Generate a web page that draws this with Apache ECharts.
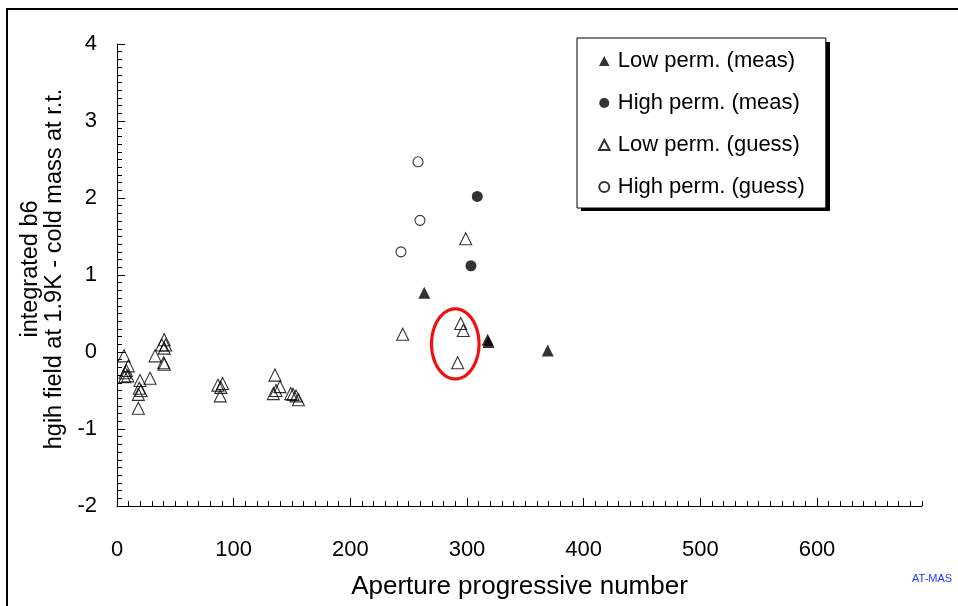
<!DOCTYPE html>
<html><head><meta charset="utf-8">
<script src="https://cdn.jsdelivr.net/npm/echarts@6/dist/echarts.min.js"></script>
<style>html,body{margin:0;padding:0;background:#fff}#c{width:958px;height:606px}</style>
</head><body><div id="c"></div>
<script>
// ---- data ----
const lowMeasX = [263.4, 317.7, 318.5, 369.2];
const lowMeasY = [0.77, 0.16, 0.13, 0.02];
const highMeasX = [308.8, 303.4];
const highMeasY = [2.02, 1.12];
const lowGuessX = [6, 9.7, 8, 6.9, 9.2, 6.6, 19.7, 28.3, 19.1, 20.6, 18.3, 18.3, 32.6, 40.5, 38.3, 41.7, 40.5, 40, 40.5,
  86.5, 90.5, 88.5, 89,
  135.4, 134, 136.3, 139.7, 148.9, 150.9, 153.5, 155.5,
  298.9, 244.9, 294.6, 296.8, 292];
const lowGuessY = [-0.05, -0.18, -0.24, -0.27, -0.31, -0.32, -0.37, -0.34, -0.47, -0.50, -0.55, -0.73, -0.05, 0.16, 0.09, 0.09, 0.05, -0.14, -0.16,
  -0.43, -0.41, -0.57, -0.46,
  -0.30, -0.54, -0.50, -0.45, -0.54, -0.55, -0.57, -0.62,
  1.47, 0.23, 0.37, 0.28, -0.14];
const highGuessX = [258, 259.7, 243.4];
const highGuessY = [2.47, 1.71, 1.30];
// highlighted region (red ellipse): x range and y range
const ellipseBox = [269.6, 310.3, -0.35, 0.56];
const seriesNames = ['Low perm. (meas)', 'High perm. (meas)', 'Low perm. (guess)', 'High perm. (guess)'];
const xTitle = 'Aperture progressive number';
const yTitle = 'integrated b6\nhgih field at 1.9K - cold mass at r.t.';

const zip = (a, b) => a.map((v, i) => [v, b[i]]);
const FONT = 'Liberation Sans, Arial, sans-serif';
const TRI = 'path://M5,0L10,9.5L0,9.5Z';

const chart = echarts.init(document.getElementById('c'), null, {renderer: 'canvas'});
const option = {
  animation: false,
  backgroundColor: '#fff',
  grid: {left: 117, top: 44, right: 36, bottom: 100, containLabel: false, outerBoundsMode: 'none'},
  xAxis: [{
    type: 'value', min: 0, max: 690, interval: 100,
    axisLine: {show: true, onZero: false, lineStyle: {color: '#000', width: 1}},
    axisTick: {show: true, inside: true, length: 8, lineStyle: {color: '#000'}},
    axisLabel: {show: true, color: '#000', fontSize: 22, fontFamily: FONT, margin: 33, showMaxLabel: false},
    splitLine: {show: false},
    name: xTitle, nameLocation: 'middle', nameGap: 68,
    nameTextStyle: {color: '#000', fontSize: 26, fontFamily: FONT}
  }, {
    type: 'value', min: 0, max: 690, interval: 10, position: 'bottom',
    axisLine: {show: false, onZero: false},
    axisTick: {show: true, inside: true, length: 5, lineStyle: {color: '#000'}},
    axisLabel: {show: false}, splitLine: {show: false}
  }],
  yAxis: {
    type: 'value', min: -2, max: 4, interval: 1,
    axisLine: {show: true, onZero: false, lineStyle: {color: '#000', width: 1}},
    axisTick: {show: true, inside: true, length: 8, lineStyle: {color: '#000'}},
    minorTick: {show: true, splitNumber: 10, length: 5, lineStyle: {color: '#000'}},
    axisLabel: {color: '#000', fontSize: 22, fontFamily: FONT, margin: 20},
    splitLine: {show: false}, minorSplitLine: {show: false},
    name: yTitle, nameLocation: 'middle', nameRotate: 90, nameGap: 45,
    nameTextStyle: {color: '#000', fontSize: 23.5, lineHeight: 24, fontFamily: FONT, align: 'center', padding: [0, 0, 0, 12]}
  },
  legend: {
    data: [
      {name: seriesNames[0], icon: TRI},
      {name: seriesNames[1]},
      {name: seriesNames[2], icon: TRI},
      {name: seriesNames[3]}
    ],
    orient: 'vertical', left: 577, top: 38,
    padding: [12, 21, 10, 21],
    itemWidth: 17, itemHeight: 10, itemGap: 20,
    symbolKeepAspect: true,
    backgroundColor: '#fff', borderColor: '#000', borderWidth: 1,
    textStyle: {color: '#000', fontSize: 22, fontFamily: FONT},
    selectedMode: false, z: 5
  },
  series: [
    {name: seriesNames[0], type: 'scatter', symbol: 'triangle', symbolSize: 12,
     itemStyle: {color: '#000'}, data: zip(lowMeasX, lowMeasY), z: 3},
    {name: seriesNames[1], type: 'scatter', symbol: 'circle', symbolSize: 11,
     itemStyle: {color: '#000'}, data: zip(highMeasX, highMeasY), z: 3},
    {name: seriesNames[2], type: 'scatter', symbol: 'triangle', symbolSize: 12,
     itemStyle: {color: 'rgba(255,255,255,0)', borderColor: '#000', borderWidth: 1.1}, data: zip(lowGuessX, lowGuessY), z: 3},
    {name: seriesNames[3], type: 'scatter', symbol: 'circle', symbolSize: 10,
     itemStyle: {color: 'rgba(255,255,255,0)', borderColor: '#000', borderWidth: 1.1}, data: zip(highGuessX, highGuessY), z: 3},
    {type: 'custom', silent: true, z: 4,
     data: [ellipseBox],
     renderItem: function (params, api) {
       const p1 = api.coord([api.value(0), api.value(3)]);
       const p2 = api.coord([api.value(1), api.value(2)]);
       const cx = (p1[0] + p2[0]) / 2, cy = (p1[1] + p2[1]) / 2;
       const rx = Math.abs(p2[0] - p1[0]) / 2, ry = Math.abs(p2[1] - p1[1]) / 2;
       const pts = [];
       for (let i = 0; i < 96; i++) {
         const t = i / 96 * Math.PI * 2;
         pts.push([cx + rx * Math.cos(t), cy + ry * Math.sin(t)]);
       }
       return {type: 'polygon', shape: {points: pts}, style: {fill: 'none', stroke: '#ee1111', lineWidth: 3.2}};
     }}
  ],
  graphic: [
    {type: 'rect', shape: {x: 7, y: 9, width: 1200, height: 1200}, style: {fill: 'none', stroke: '#000', lineWidth: 2}, silent: true, z: 0},
    {type: 'rect', shape: {x: 581, y: 42, width: 249, height: 169}, style: {fill: '#000'}, silent: true, z: 1},
    {type: 'text', left: 912, top: 573, style: {text: 'AT-MAS', fill: '#2233ff', font: '11px ' + FONT}, silent: true}
  ]
};
chart.setOption(option);
</script>
</body></html>
